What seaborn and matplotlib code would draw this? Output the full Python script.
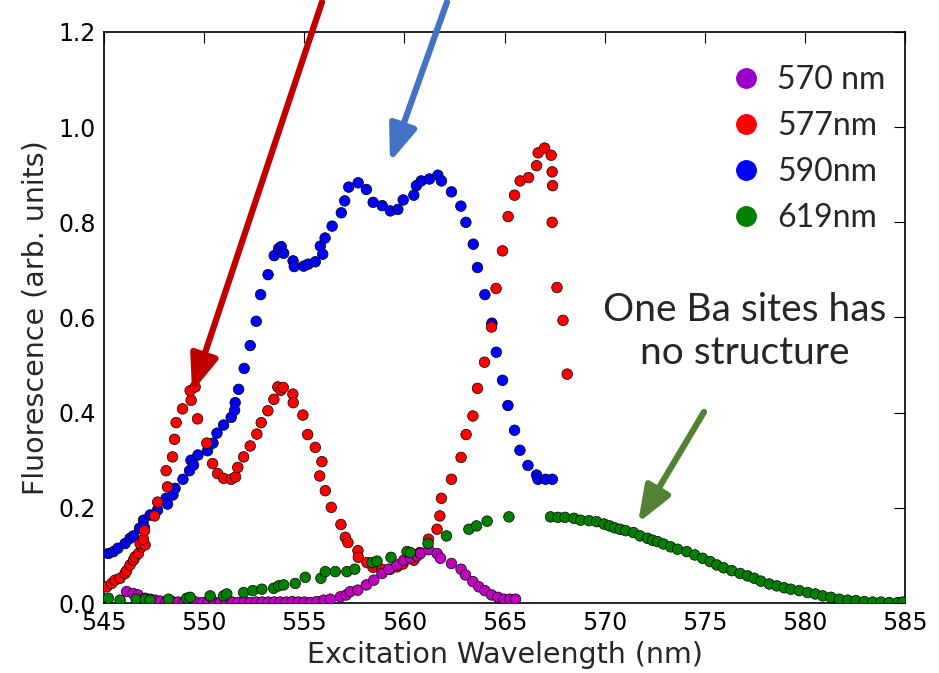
import matplotlib
matplotlib.use("Agg")
import matplotlib.pyplot as plt
from matplotlib.lines import Line2D
import seaborn as sns
import pandas as pd

# Excitation scans of the 570 nm emission line
wl_570 = [546.13, 546.45, 546.7, 547.05, 547.3, 547.55, 547.8,
          548.1, 548.4, 548.7, 549.0, 549.3, 549.6, 549.9, 550.2, 550.5, 550.8,
          551.1, 551.4, 551.7, 552.0, 552.3, 552.6, 552.9, 553.2, 553.5, 553.8,
          554.1, 554.4, 554.7, 555.0, 555.3,
          555.63, 555.97, 556.3, 556.8, 557.1, 557.3, 557.67, 558.1, 558.47, 558.88,
          559.22, 559.63, 559.97, 560.3, 560.63, 560.8, 561.22, 561.63, 561.8, 562.35,
          562.83, 563.05, 563.42, 563.72, 564.02, 564.35, 564.67, 564.97, 565.27, 565.55]
fl_570 = [0.024, 0.020, 0.017, 0.010, 0.008, 0.006, 0.004,
          0.003, 0.003, 0.002, 0.002, 0.002, 0.002, 0.001, 0.002, 0.002, 0.001,
          0.002, 0.002, 0.001, 0.002, 0.001, 0.002, 0.002, 0.002, 0.002, 0.002,
          0.002, 0.003, 0.002, 0.002, 0.001,
          0.003, 0.006, 0.008, 0.013, 0.017, 0.024, 0.027, 0.038, 0.048, 0.062,
          0.071, 0.080, 0.090, 0.095, 0.099, 0.104, 0.112, 0.104, 0.094, 0.083,
          0.071, 0.059, 0.045, 0.034, 0.026, 0.017, 0.012, 0.008, 0.008, 0.008]

# 577 nm emission line
wl_577 = [545.13, 545.38, 545.55, 545.8, 546.05, 546.13, 546.3, 546.47, 546.55, 546.72,
          546.88, 546.8, 547.05, 546.97, 547.02, 547.52, 547.68, 548.17, 548.1, 548.42,
          548.52, 548.6, 548.92, 549.35, 549.3, 549.55, 549.67, 550.13, 550.42, 550.67,
          550.97, 551.35, 551.57, 551.68, 551.97, 552.3, 552.63, 552.85, 553.18, 553.48,
          553.68, 553.83, 553.95, 554.43, 554.45, 554.93, 555.17, 555.55, 555.88, 555.77,
          556.05, 556.35, 556.83, 557.05, 557.18, 557.68, 557.7, 558.13, 558.43, 558.88,
          559.3, 559.63, 559.93, 560.47, 560.77, 561.2, 561.63, 561.77, 561.85, 562.35,
          562.83, 563.08, 563.42, 563.65, 564.0, 564.35, 564.58, 564.9, 565.18, 565.5,
          565.78, 566.2, 566.6, 566.68, 567.0, 567.33, 567.38, 567.4, 567.38, 567.62,
          567.92, 568.13]
fl_577 = [0.034, 0.041, 0.048, 0.052, 0.062, 0.068, 0.080, 0.090, 0.097, 0.104,
          0.118, 0.125, 0.122, 0.134, 0.152, 0.183, 0.212, 0.244, 0.278, 0.307,
          0.344, 0.379, 0.408, 0.426, 0.446, 0.454, 0.387, 0.336, 0.293, 0.272,
          0.262, 0.260, 0.265, 0.285, 0.307, 0.330, 0.355, 0.379, 0.404, 0.428,
          0.454, 0.447, 0.453, 0.439, 0.421, 0.395, 0.354, 0.327, 0.297, 0.267,
          0.236, 0.201, 0.165, 0.138, 0.127, 0.110, 0.096, 0.085, 0.075, 0.071,
          0.071, 0.076, 0.082, 0.090, 0.106, 0.134, 0.155, 0.183, 0.220, 0.260,
          0.306, 0.354, 0.393, 0.451, 0.506, 0.580, 0.661, 0.740, 0.812, 0.857,
          0.887, 0.894, 0.919, 0.946, 0.956, 0.941, 0.906, 0.877, 0.800, 0.663,
          0.594, 0.481]

# 590 nm emission line
wl_590 = [545.22, 545.47, 545.69, 546.05, 546.30, 546.47, 546.77, 546.97, 547.0, 547.3,
          547.67, 548.1, 548.17, 548.44, 548.55, 548.94, 549.27, 549.34, 549.47, 549.69,
          550.17, 550.44, 550.64, 550.97, 551.35, 551.52, 551.55, 551.72, 552.0, 552.3,
          552.6, 552.82, 553.19, 553.5, 553.72, 553.85, 553.97, 554.44, 554.5, 554.97,
          555.19, 555.55, 555.8, 555.92, 556.04, 556.39, 556.85, 557.02, 557.22, 557.69,
          558.1, 558.44, 558.89, 559.3, 559.67, 559.94, 560.47, 560.6, 560.84, 561.25,
          561.67, 561.85, 562.35, 562.82, 563.07, 563.44, 563.65, 564.02, 564.37, 564.59,
          564.9, 565.17, 565.5, 565.77, 566.17, 566.6, 566.67, 567.05, 567.39]
fl_590 = [0.104, 0.108, 0.115, 0.125, 0.136, 0.141, 0.157, 0.174, 0.160, 0.185,
          0.195, 0.220, 0.208, 0.227, 0.241, 0.260, 0.278, 0.300, 0.290, 0.311,
          0.320, 0.336, 0.357, 0.374, 0.390, 0.405, 0.421, 0.449, 0.493, 0.541,
          0.592, 0.648, 0.690, 0.730, 0.745, 0.749, 0.735, 0.719, 0.707, 0.708,
          0.712, 0.717, 0.750, 0.733, 0.767, 0.792, 0.820, 0.845, 0.874, 0.883,
          0.869, 0.842, 0.835, 0.824, 0.827, 0.847, 0.857, 0.877, 0.887, 0.891,
          0.899, 0.887, 0.864, 0.834, 0.800, 0.754, 0.705, 0.648, 0.588, 0.527,
          0.468, 0.415, 0.363, 0.321, 0.289, 0.269, 0.260, 0.260, 0.260]

# 619 nm emission line
wl_619 = [545.22, 545.8, 546.6, 547.05, 547.3, 548.22, 549.13, 549.3, 550.3, 550.97,
          551.13, 551.97, 552.43, 552.88, 553.47, 553.72, 553.97, 554.55, 555.05, 555.83,
          556.05, 556.55, 557.13, 557.52, 558.39, 558.63, 559.33, 560.13, 560.3, 561.18,
          562.1, 563.22, 563.6, 564.13, 565.22, 567.3, 567.67, 568.02, 568.47, 568.8,
          569.22, 569.6, 569.97, 570.25, 570.5, 570.77, 571.05, 571.44, 571.77, 572.14,
          572.39, 572.64, 572.94, 573.3, 573.64, 574.1, 574.5, 574.89, 575.27, 575.6,
          575.94, 576.35, 576.77, 577.14, 577.47, 577.8, 578.22, 578.6, 578.97, 579.3,
          579.72, 580.14, 580.52, 580.89, 581.3, 581.72, 582.14, 582.55, 582.97, 583.39,
          583.8, 584.22, 584.64, 584.89]
fl_619 = [0.010, 0.006, 0.008, 0.008, 0.006, 0.008, 0.010, 0.012, 0.015, 0.015,
          0.019, 0.022, 0.026, 0.029, 0.031, 0.036, 0.038, 0.041, 0.054, 0.052,
          0.066, 0.066, 0.066, 0.071, 0.085, 0.088, 0.096, 0.108, 0.106, 0.125,
          0.141, 0.155, 0.162, 0.172, 0.181, 0.181, 0.180, 0.180, 0.178, 0.174,
          0.173, 0.171, 0.166, 0.162, 0.158, 0.155, 0.152, 0.148, 0.141, 0.136,
          0.132, 0.129, 0.124, 0.118, 0.113, 0.108, 0.101, 0.094, 0.087, 0.080,
          0.074, 0.068, 0.062, 0.057, 0.052, 0.046, 0.040, 0.036, 0.032, 0.029,
          0.026, 0.022, 0.019, 0.015, 0.012, 0.008, 0.006, 0.005, 0.003, 0.002,
          0.002, 0.001, 0.001, 0.002]

series_labels = ["570 nm", "577nm", "590nm", "619nm"]
point_colors = {"570 nm": "#BF00BF", "577nm": "#FF0000", "590nm": "#0000FF", "619nm": "#008000"}
legend_colors = ["#9900CC", "#FF0000", "#0000FF", "#008000"]

x_ticks = [545, 550, 555, 560, 565, 570, 575, 580, 585]
y_ticks = [0.0, 0.2, 0.4, 0.6, 0.8, 1.0, 1.2]

# long-form table; row order sets the stacking of the markers
frames = []
for lab, wl, fl in [("590nm", wl_590, fl_590), ("577nm", wl_577, fl_577),
                    ("570 nm", wl_570, fl_570), ("619nm", wl_619, fl_619)]:
    frames.append(pd.DataFrame({"wl": wl, "fl": fl, "series": lab}))
df = pd.concat(frames, ignore_index=True)

sns.set_style("white")
plt.rcParams["font.family"] = ["DejaVu Sans"]

fig = plt.figure(figsize=(9.39, 6.73), dpi=100)
ax = fig.add_axes([0.1108, 0.104, 0.853, 0.8485])

sns.scatterplot(data=df, x="wl", y="fl", hue="series", palette=point_colors,
                s=58, edgecolor="black", linewidth=0.5, legend=False, ax=ax, zorder=3)

ax.set_xlim(545, 585)
ax.set_ylim(0, 1.2)
ax.set_xticks(x_ticks)
ax.set_yticks(y_ticks)
ax.set_yticklabels([f"{v:.1f}" for v in y_ticks])
ax.tick_params(direction="in", top=True, right=True, length=8, width=0.8,
               labelsize=17, colors="black", pad=6)
for sp in ax.spines.values():
    sp.set_color("black")
    sp.set_linewidth(1.2)
ax.set_xlabel("Excitation Wavelength (nm)", fontsize=20.5, labelpad=4)
ax.set_ylabel("Fluorescence (arb. units)", fontsize=20.5, labelpad=6)

handles = [Line2D([], [], marker="o", linestyle="", markersize=14,
                  markerfacecolor=c, markeredgecolor=c) for c in legend_colors]
ax.legend(handles, series_labels, loc="upper right", bbox_to_anchor=(1.0, 0.975),
          frameon=False, prop={"family": "Lato", "size": 23},
          handlelength=1.0, handletextpad=0.5, labelspacing=0.5, borderaxespad=0.2)

ax.text(0.80, 0.475, "One Ba sites has\nno structure", transform=ax.transAxes,
        ha="center", va="center", fontsize=28, family="Lato", linespacing=1.25)

def arrow(tail, head, color, lw):
    ax.annotate("", xy=head, xytext=tail, xycoords="figure pixels",
                textcoords="figure pixels", annotation_clip=False,
                arrowprops=dict(arrowstyle="-|>,head_length=1.1,head_width=0.42",
                                color=color, lw=lw, mutation_scale=20,
                                shrinkA=0, shrinkB=0))

H = 673
arrow((322, H - 2), (192, H - 392), "#C00000", 4.5)
arrow((447, H - 2), (390, H - 162), "#4472C4", 4.5)
arrow((704, H - 412), (638, H - 523), "#548235", 4.5)

fig.savefig("out.png", dpi=100)
